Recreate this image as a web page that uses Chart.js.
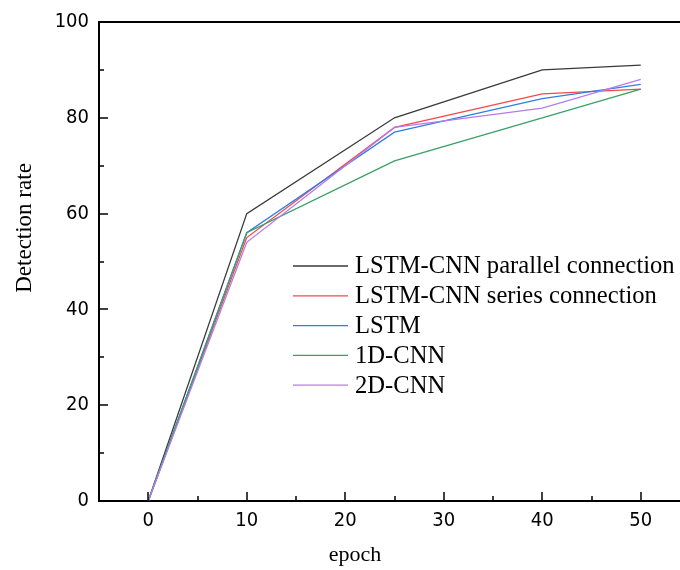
<!DOCTYPE html>
<html>
<head>
<meta charset="utf-8">
<script src="https://cdn.jsdelivr.net/npm/chart.js@4"></script>
<style>
html,body{margin:0;padding:0;background:#fff;overflow:hidden;}
#wrap{width:700px;height:570px;position:relative;}
</style>
</head>
<body>
<div id="wrap"><canvas id="c" width="700" height="570"></canvas></div>
<script>
const epochs = [0, 10, 25, 40, 50];
const seriesNames = ["LSTM-CNN parallel connection", "LSTM-CNN series connection", "LSTM", "1D-CNN", "2D-CNN"];
const parallelVals = [0, 60, 80, 90, 91];
const seriesVals = [0, 55, 78, 85, 86];
const lstmVals = [0, 56, 77, 84, 87];
const cnn1dVals = [0, 56, 71, 80, 86];
const cnn2dVals = [0, 54, 78, 82, 88];
const xTickValues = [0, 10, 20, 30, 40, 50];
const yTickValues = [0, 20, 40, 60, 80, 100];

const colors = ["#3a3a3a", "#f4484c", "#2f7fe3", "#3a9f68", "#b57ce9"];
const allVals = [parallelVals, seriesVals, lstmVals, cnn1dVals, cnn2dVals];
const drawOrder = [4, 3, 2, 1, 0];

const datasets = allVals.map((vals, i) => ({
  label: seriesNames[i],
  data: epochs.map((e, j) => ({x: e, y: vals[j]})),
  borderColor: colors[i],
  backgroundColor: colors[i],
  borderWidth: 1.3,
  pointRadius: 0,
  tension: 0,
  fill: false,
  order: drawOrder[i]
}));

const tickFont = {family: "'DejaVu Sans Condensed', 'DejaVu Sans', sans-serif", size: 20};
const serif = "'Liberation Serif', 'Times New Roman', serif";

const decor = {
  id: 'decor',
  afterDraw(chart) {
    const ctx = chart.ctx;
    const xs = chart.scales.x, ys = chart.scales.y;
    const a = chart.chartArea;
    ctx.save();
    // top frame line
    ctx.strokeStyle = '#000';
    ctx.lineWidth = 2;
    ctx.beginPath();
    ctx.moveTo(a.left, a.top);
    ctx.lineTo(a.right + 20, a.top);
    ctx.stroke();
    // inward ticks
    ctx.lineWidth = 1.5;
    for (let v = 10; v <= 100; v += 10) {
      const p = Math.round(ys.getPixelForValue(v));
      const len = (v % 20 === 0) ? 9 : 5;
      ctx.beginPath();
      ctx.moveTo(a.left, p);
      ctx.lineTo(a.left + len, p);
      ctx.stroke();
    }
    for (let v = 0; v <= 55; v += 5) {
      const p = Math.round(xs.getPixelForValue(v));
      const len = (v % 10 === 0) ? 9 : 5;
      ctx.beginPath();
      ctx.moveTo(p, a.bottom);
      ctx.lineTo(p, a.bottom - len);
      ctx.stroke();
    }
    // axis titles
    ctx.fillStyle = '#000';
    ctx.font = "22px " + serif;
    ctx.textAlign = 'center';
    ctx.textBaseline = 'alphabetic';
    ctx.fillText('epoch', xs.getPixelForValue(21), 561);
    ctx.save();
    ctx.translate(31, ys.getPixelForValue(57));
    ctx.rotate(-Math.PI / 2);
    ctx.font = "23px " + serif;
    ctx.textAlign = 'center';
    ctx.fillText('Detection rate', 0, 0);
    ctx.restore();
    // legend
    ctx.font = "24.6px " + serif;
    ctx.textAlign = 'left';
    ctx.textBaseline = 'middle';
    const lx = 293, ly = 266, gap = 29.8;
    seriesNames.forEach((n, i) => {
      const y = ly + i * gap;
      ctx.strokeStyle = colors[i];
      ctx.lineWidth = 1.3;
      ctx.beginPath();
      ctx.moveTo(lx, y);
      ctx.lineTo(lx + 55, y);
      ctx.stroke();
      ctx.fillStyle = '#000';
      ctx.fillText(n, lx + 62, y + 1);
    });
    ctx.restore();
  }
};

new Chart(document.getElementById('c'), {
  type: 'line',
  data: {datasets},
  options: {
    responsive: false,
    animation: false,
    layout: {padding: {top: 20, right: 10, left: 0, bottom: 0}},
    plugins: {legend: {display: false}, tooltip: {enabled: false}},
    scales: {
      x: {
        type: 'linear',
        min: -5, max: 55,
        afterFit: s => { s.height = 69; },
        afterBuildTicks: s => { s.ticks = xTickValues.map(v => ({value: v})); },
        ticks: {font: tickFont, color: '#000', padding: 8},
        grid: {display: true, drawOnChartArea: false, drawTicks: false},
        border: {color: '#000', width: 2}
      },
      y: {
        min: 0, max: 100,
        afterFit: s => { s.width = 99; },
        afterBuildTicks: s => { s.ticks = yTickValues.map(v => ({value: v})); },
        ticks: {font: tickFont, color: '#000', padding: 10},
        grid: {display: true, drawOnChartArea: false, drawTicks: false},
        border: {color: '#000', width: 2}
      }
    }
  },
  plugins: [decor]
});
</script>
</body>
</html>
